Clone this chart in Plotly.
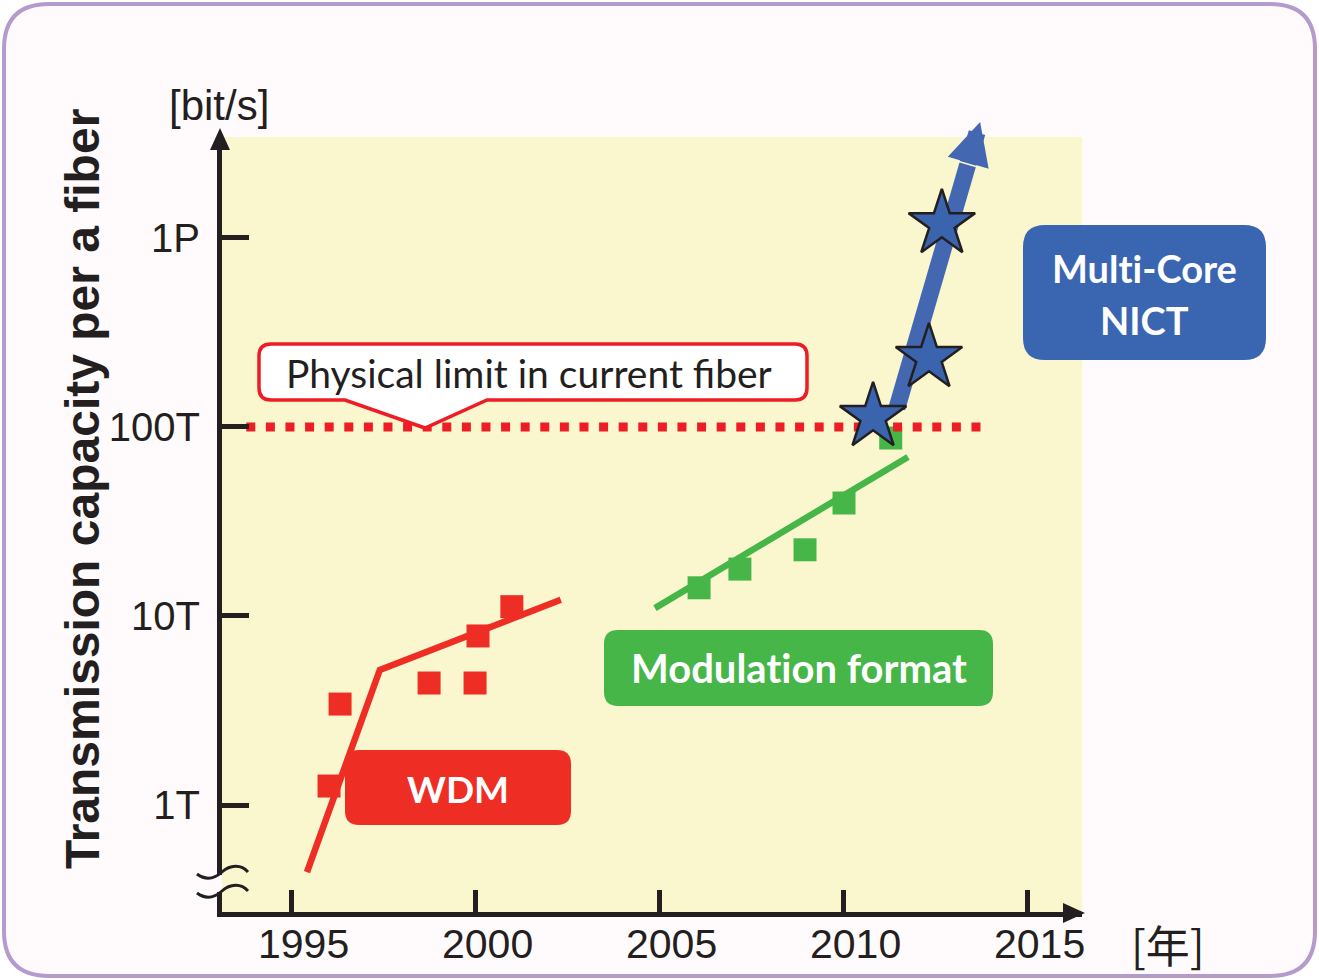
import numpy as np
import plotly.graph_objects as go

# ---------------- data ----------------
wdm_years = [1996.01, 1996.31, 1998.73, 1999.98, 2000.06, 2000.98]
wdm_tbps = [1.26, 3.42, 4.42, 4.42, 7.84, 11.2]
wdm_trend_years = [1995.41, 1997.39, 2002.31]
wdm_trend_tbps = [0.442, 5.18, 12.2]

mod_years = [2006.07, 2007.18, 2008.95, 2010.01, 2011.28]
mod_tbps = [14.1, 17.7, 22.4, 39.6, 87.4]
mod_trend_years = [2004.87, 2011.75]
mod_trend_tbps = [11.0, 69.4]

mc_years = [2010.80, 2012.32, 2012.67]
mc_tbps = [113, 232, 1186]
mc_trend_years = [2011.45, 2013.71]
mc_trend_tbps = [126, 4110]

limit_tbps = 100
limit_years = [1993.76, 2013.83]

xtick_vals = [1995, 2000, 2005, 2010, 2015]
xtick_text = ["1995", "2000", "2005", "2010", "2015"]
ytick_vals = [1, 10, 100, 1000]
ytick_text = ["1T", "10T", "100T", "1P"]

# ---------------- layout geometry ----------------
W, H = 1319, 980
L, R, T, B = 222, 1082, 137, 912   # plot area in page pixels
X_RANGE = [1993.10, 2016.48]
Y_RANGE = [-0.566, 3.534]

RED = "#ee2d24"
GREEN = "#47b649"
BLUE = "#3a64ae"
ARROW_BLUE = "#4467b1"
INK = "#231f20"
YELLOW = "#faf7cf"
LILAC = "#b49bcb"
FRAME_FILL = "#fffbfd"
SANS = "Liberation Sans, Arial, sans-serif"
CAL = "Lato, Open Sans, sans-serif"
ZWNJ = "\u200c"


def px(x):
    return (x - L) / (R - L)


def py(y):
    return (B - y) / (B - T)


def P(x, y):
    return f"{px(x):.5f},{py(y):.5f}"


def rrect(x0, y0, x1, y1, r):
    return (f"M{P(x0 + r, y0)} L{P(x1 - r, y0)} Q{P(x1, y0)} {P(x1, y0 + r)} "
            f"L{P(x1, y1 - r)} Q{P(x1, y1)} {P(x1 - r, y1)} "
            f"L{P(x0 + r, y1)} Q{P(x0, y1)} {P(x0, y1 - r)} "
            f"L{P(x0, y0 + r)} Q{P(x0, y0)} {P(x0 + r, y0)} Z")


def callout(x0, y0, x1, y1, r, tl, tip, tr):
    return (f"M{P(x0 + r, y0)} L{P(x1 - r, y0)} Q{P(x1, y0)} {P(x1, y0 + r)} "
            f"L{P(x1, y1 - r)} Q{P(x1, y1)} {P(x1 - r, y1)} "
            f"L{P(tr, y1)} L{P(tip[0], tip[1])} L{P(tl, y1)} "
            f"L{P(x0 + r, y1)} Q{P(x0, y1)} {P(x0, y1 - r)} "
            f"L{P(x0, y0 + r)} Q{P(x0, y0)} {P(x0 + r, y0)} Z")


fig = go.Figure()

# WDM
fig.add_trace(go.Scatter(x=wdm_trend_years, y=wdm_trend_tbps, mode="lines",
                         line=dict(color=RED, width=6.5), hoverinfo="skip"))
fig.add_trace(go.Scatter(x=wdm_years, y=wdm_tbps, mode="markers",
                         marker=dict(symbol="square", size=23, color=RED), cliponaxis=False))
# Modulation format
fig.add_trace(go.Scatter(x=mod_trend_years, y=mod_trend_tbps, mode="lines",
                         line=dict(color=GREEN, width=6.5), hoverinfo="skip"))
fig.add_trace(go.Scatter(x=mod_years, y=mod_tbps, mode="markers",
                         marker=dict(symbol="square", size=23, color=GREEN), cliponaxis=False))
# physical limit
fig.add_trace(go.Scatter(x=limit_years, y=[limit_tbps, limit_tbps], mode="lines",
                         line=dict(color="#ee1c25", width=9, dash="9px,10.6px"), hoverinfo="skip"))
# multi-core arrow shaft (head drawn as annotation)
f = 0.85
ly0, ly1 = np.log10(mc_trend_tbps[0]), np.log10(mc_trend_tbps[1])
shaft_end_year = mc_trend_years[0] + f * (mc_trend_years[1] - mc_trend_years[0])
shaft_end_log = ly0 + f * (ly1 - ly0)
fig.add_trace(go.Scatter(x=[mc_trend_years[0], shaft_end_year],
                         y=[mc_trend_tbps[0], 10 ** shaft_end_log], mode="lines",
                         line=dict(color=ARROW_BLUE, width=17), hoverinfo="skip"))
fig.add_trace(go.Scatter(x=mc_years, y=mc_tbps, mode="markers",
                         marker=dict(symbol="star", size=50, color=BLUE,
                                     line=dict(color=INK, width=2.5)), cliponaxis=False))

shapes = []
# rounded frame + yellow area (below everything)
shapes.append(dict(type="path", xref="paper", yref="paper", layer="below",
                   path=rrect(4, 4, 1315, 976, 45), fillcolor=FRAME_FILL,
                   line=dict(color=LILAC, width=4)))
shapes.append(dict(type="rect", xref="paper", yref="paper", layer="below",
                   x0=0, x1=1, y0=0, y1=1, fillcolor=YELLOW, line=dict(width=0)))
# axis arrow heads
shapes.append(dict(type="path", xref="paper", yref="paper", layer="above",
                   path=f"M{P(220, 128)} L{P(210, 150)} L{P(230, 150)} Z",
                   fillcolor=INK, line=dict(width=0)))
shapes.append(dict(type="path", xref="paper", yref="paper", layer="above",
                   path=f"M{P(1085, 913)} L{P(1063, 903)} L{P(1063, 923)} Z",
                   fillcolor=INK, line=dict(width=0)))
# axis break: gap in the axis + two wavy marks
shapes.append(dict(type="rect", xref="paper", yref="paper", layer="above",
                   x0=px(212), x1=px(222), y0=py(892), y1=py(875),
                   fillcolor=FRAME_FILL, line=dict(width=0)))
for dy in (0, 19):
    shapes.append(dict(type="path", xref="paper", yref="paper", layer="above",
                       path=(f"M{P(197, 874 + dy)} C{P(205, 880 + dy)} {P(213, 880 + dy)} {P(222, 872 + dy)} "
                             f"C{P(230, 865 + dy)} {P(241, 864 + dy)} {P(248, 872 + dy)}"),
                       line=dict(color=INK, width=3)))
# label boxes
shapes.append(dict(type="path", xref="paper", yref="paper", layer="above",
                   path=callout(259, 344, 807, 400, 12, 345, (425, 428), 487),
                   fillcolor="white", line=dict(color="#ee1c25", width=3.5)))
shapes.append(dict(type="path", xref="paper", yref="paper", layer="above",
                   path=rrect(345, 750, 571, 825, 14), fillcolor=RED, line=dict(width=0)))
shapes.append(dict(type="path", xref="paper", yref="paper", layer="above",
                   path=rrect(604, 630, 993, 706, 14), fillcolor=GREEN, line=dict(width=0)))
shapes.append(dict(type="path", xref="paper", yref="paper", layer="above",
                   path=rrect(1023, 225, 1266, 360, 22), fillcolor="#3a66b1", line=dict(width=0)))

ann = []
# multi-core arrow head
ann.append(dict(x=mc_trend_years[1], y=ly1, ax=shaft_end_year, ay=shaft_end_log,
                xref="x", yref="y", axref="x", ayref="y", text="", showarrow=True,
                arrowhead=2, arrowsize=0.5, arrowwidth=17, arrowcolor=ARROW_BLUE,
                standoff=0, startstandoff=0))
# x tick labels
for v, t in zip(xtick_vals, xtick_text):
    ann.append(dict(x=v, y=py(944), xref="x", yref="paper", text=t, showarrow=False,
                    xshift=12, xanchor="center", yanchor="middle",
                    font=dict(family=SANS, size=41, color=INK)))
ann.append(dict(x=px(1168), y=py(944), xref="paper", yref="paper", text="[年]", showarrow=False,
                xanchor="center", yanchor="middle",
                font=dict(family="Noto Sans CJK JP, sans-serif", size=44, color=INK)))
ann.append(dict(x=px(219), y=py(105), xref="paper", yref="paper", text="[bit/s]", showarrow=False,
                xanchor="center", yanchor="middle", font=dict(family=SANS, size=42, color=INK)))
ann.append(dict(x=px(82), y=py(489), xref="paper", yref="paper",
                text="<b>Transmission capacity per a fiber</b>", showarrow=False, textangle=-90,
                xanchor="center", yanchor="middle", font=dict(family=SANS, size=48, color=INK)))
ann.append(dict(x=px(529), y=py(373), xref="paper", yref="paper",
                text="Physical limit in current fiber", showarrow=False,
                xanchor="center", yanchor="middle", font=dict(family=CAL, size=39, color=INK)))
ann.append(dict(x=px(458), y=py(788), xref="paper", yref="paper", text="<b>WDM</b>", showarrow=False,
                xanchor="center", yanchor="middle", font=dict(family=CAL, size=37, color="white")))
ann.append(dict(x=px(799), y=py(668), xref="paper", yref="paper",
                text=f"<b>Modulat{ZWNJ}ion format</b>",
                showarrow=False, xanchor="center", yanchor="middle",
                font=dict(family=CAL, size=40, color="white")))
ann.append(dict(x=px(1144), y=py(268), xref="paper", yref="paper", text=f"<b>Mult{ZWNJ}i-Core</b>",
                showarrow=False, xanchor="center", yanchor="middle",
                font=dict(family=CAL, size=38, color="white")))
ann.append(dict(x=px(1144), y=py(320), xref="paper", yref="paper", text="<b>NICT</b>",
                showarrow=False, xanchor="center", yanchor="middle",
                font=dict(family=CAL, size=38, color="white")))

fig.update_layout(
    width=W, height=H,
    margin=dict(l=L, r=W - R, t=T, b=H - B, pad=0),
    paper_bgcolor="white", plot_bgcolor="rgba(0,0,0,0)",
    showlegend=False, shapes=shapes, annotations=ann,
    xaxis=dict(range=X_RANGE, showgrid=False, zeroline=False, showline=True, linewidth=5,
               linecolor=INK, ticks="inside", ticklen=22, tickwidth=5, tickcolor=INK,
               tickvals=xtick_vals, showticklabels=False),
    yaxis=dict(type="log", range=Y_RANGE, showgrid=False, zeroline=False, showline=True,
               linewidth=5, linecolor=INK, ticks="inside", ticklen=27, tickwidth=5,
               tickcolor=INK, tickvals=ytick_vals, ticktext=ytick_text,
               tickfont=dict(family=SANS, size=40, color=INK), ticklabelstandoff=9),
)

fig.write_html("out.html", config={"displayModeBar": False, "staticPlot": True},
               post_script="document.body.style.margin='0';document.body.style.overflow='hidden';")
